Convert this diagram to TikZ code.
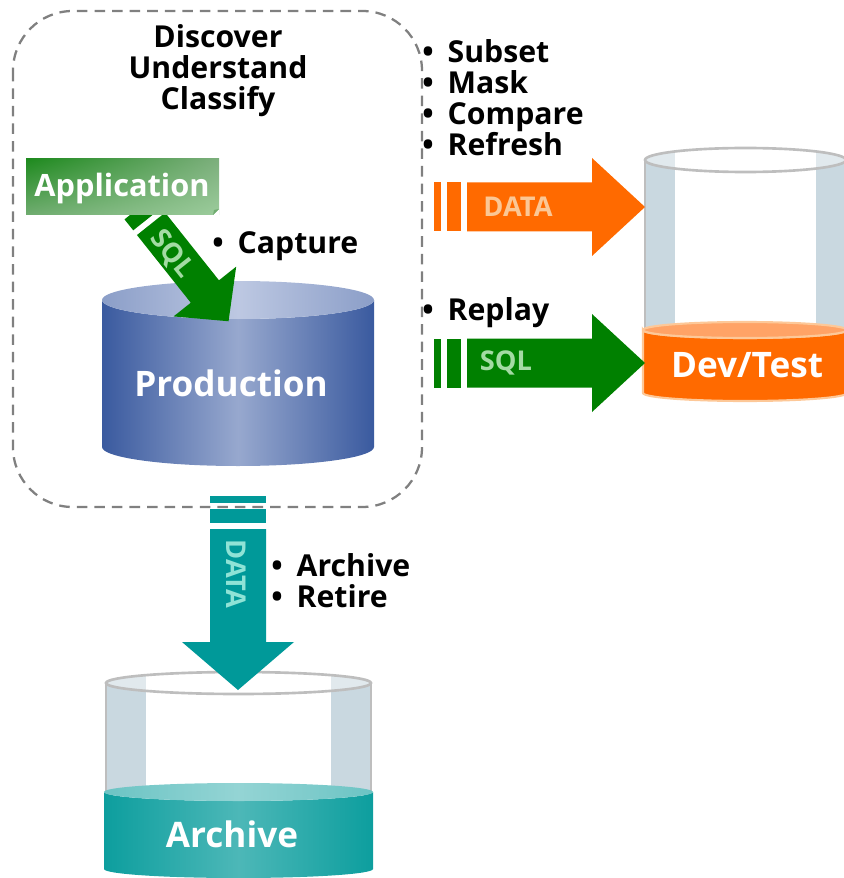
\documentclass[tikz,border=0pt]{standalone}
\usepackage{fontspec}
\setmainfont{Open Sans}
\usetikzlibrary{calc,shadings}
\definecolor{orangedb}{HTML}{FF6A00}
\definecolor{orangeedge}{HTML}{FDC898}
\definecolor{orangetop}{HTML}{FFA366}
\definecolor{orangetext}{HTML}{FBC795}
\definecolor{greenflow}{HTML}{008000}
\definecolor{greentext}{HTML}{A3DBA3}
\definecolor{tealdb}{HTML}{009999}
\definecolor{tealtext}{HTML}{8FE3D6}
\definecolor{proddark}{HTML}{3A5A9F}
\definecolor{prodmid}{HTML}{97A8CE}
\definecolor{prodtopdark}{HTML}{8B9EC8}
\definecolor{prodtopmid}{HTML}{BDC8E2}
\definecolor{appdark}{HTML}{1E8A1E}
\definecolor{appright}{HTML}{7DAF7D}
\definecolor{appleft}{HTML}{70AC70}
\definecolor{applight}{HTML}{9CCC9C}
\definecolor{glassband}{HTML}{C9D8E0}
\definecolor{glasstop}{HTML}{E1E9ED}
\definecolor{glassline}{HTML}{BEBEBE}
\def\glassdb(#1,#2)(#3,#4,#5)(#6){
	\fill[glassband] ({#1-#2},#3) rectangle ({#1-#2+#6},#4);
	\fill[glassband] ({#1+#2-#6},#3) rectangle ({#1+#2},#4);
	\fill[white] (#1,#3) ellipse (#2 and #5);
	\begin{scope}
		\clip (#1,#3) ellipse (#2 and #5);
		\fill[glasstop] ({#1-#2},{#3-#5}) rectangle ({#1-#2+#6},{#3+#5});
		\fill[glasstop] ({#1+#2-#6},{#3-#5}) rectangle ({#1+#2},{#3+#5});
	\end{scope}
	\draw[glassline, line width=1.5pt] ({#1-#2},#4) -- ({#1-#2},#3);
	\draw[glassline, line width=1.5pt] ({#1+#2},#4) -- ({#1+#2},#3);
	\draw[glassline, line width=1.5pt] (#1,#3) ellipse (#2 and #5);
}
\def\dbdisk[#1][#2](#3,#4)(#5,#6,#7){
	\path[#1] ({#3-#4},#5) -- ({#3-#4},#6) arc (180:0:#4 and #7) -- ({#3+#4},#5) arc (0:180:#4 and #7) -- cycle;
	\path[#2] (#3,#5) ellipse (#4 and #7);
}
\def\blockarrow[#1](#2)(#3:#4:#5:#6:#7)(#8)#9{
	\begin{scope}[shift={(#2)}, rotate=#3, #1]
		\fill (0,{-#5}) rectangle (7,#5);
		\fill (13,{-#5}) rectangle (27,#5);
		\fill (33,{-#5}) -- ({#4-#7},{-#5}) -- ({#4-#7},{-#6}) -- (#4,0) -- ({#4-#7},#6) -- ({#4-#7},#5) -- (33,#5) -- cycle;
		\node[font=\bfseries\fontsize{15.5}{16}\selectfont, transform shape] at (#8) {#9};
	\end{scope}
}
\tikzset{
	flowdata/.style={fill=orangedb, text=orangetext},
	flowsql/.style={fill=greenflow, text=greentext},
	flowarchive/.style={fill=tealdb, text=tealtext},
	bulletlist/.style={anchor=north west, align=left, inner sep=0pt, font=\bfseries\fontsize{17.2}{17.64}\selectfont},
	dblabel/.style={text=white, font=\bfseries\fontsize{20}{22}\selectfont}
}
\newcommand{\bulitem}[1]{\makebox[14.4pt][l]{\textbullet}#1}

\begin{document}
\begin{tikzpicture}[x=0.02cm, y=-0.02cm]
	%%%%% START %%%%%
	\useasboundingbox (0,0) rectangle (843,878);
	
	\coordinate (devflow) at (434,207);
	\coordinate (replayflow) at (434,363);
	\coordinate (archiveflow) at (238,496);
	\coordinate (captureflow) at (130.5,198);
	
	\draw[black!50, line width=1.3pt, dash pattern=on 6pt off 4pt, rounded corners=34pt] (13,11) rectangle (422,507);
	
	\dbdisk[left color=proddark, right color=proddark, middle color=prodmid][left color=prodtopdark, right color=prodtopdark, middle color=prodtopmid](238,136)(300,447,19)
	\node[dblabel] (prod) at (231,383) {Production};
	
	\glassdb(745.5,100.5)(160,335,12)(30)
	\dbdisk[fill=orangedb, draw=orangeedge, line width=1.2pt][fill=orangetop, draw=orangeedge, line width=1.2pt](745,102)(330,393,8)
	\node[dblabel] (devtest) at (747,365) {Dev/Test};
	
	\glassdb(238.5,132.5)(683,795,11)(40)
	\dbdisk[left color=tealdb!95!white, right color=tealdb!95!white, middle color=tealdb!70!white][left color=tealdb!58!white, right color=tealdb!58!white, middle color=tealdb!42!white](238.5,134.5)(792,869,9)
	\node[dblabel] (archive) at (232,834) {Archive};
	
	\blockarrow[flowdata](devflow)(0:211:24.5:49:53)(84,0){DATA}
	\blockarrow[flowsql](replayflow)(0:211:24.5:49:53)(72,0){SQL}
	\blockarrow[flowarchive](archiveflow)(-90:194:28:56:48)(78,2){DATA}
	\blockarrow[flowsql](captureflow)(-51.5:157.5:18:40:38)(70,3){SQL}
	
	\shade[upper left=appdark, upper right=appright, lower left=appleft, lower right=applight] (26,159) rectangle (219,215);
	\fill[white] (213,215) -- (219,209) -- (219,215) -- cycle;
	\fill[appleft] (213,215) -- (219,209) -- (214,210) -- cycle;
	\node[dblabel, font=\bfseries\fontsize{17.5}{20}\selectfont] (app) at (122,189) {Application};
	
	\node[font=\bfseries\fontsize{17.2}{17.64}\selectfont, align=center, inner sep=0pt] (goals) at (218,71) {Discover\\Understand\\Classify};
	\node[bulletlist] (testlist) at (422,39) {\bulitem{Subset}\\\bulitem{Mask}\\\bulitem{Compare}\\\bulitem{Refresh}};
	\node[bulletlist] (capturelist) at (212,231) {\bulitem{Capture}};
	\node[bulletlist] (replaylist) at (422,297) {\bulitem{Replay}};
	\node[bulletlist] (archivelist) at (271,553) {\bulitem{Archive}\\\bulitem{Retire}};
	
	%%%%% END %%%%%
\end{tikzpicture}
\end{document}
